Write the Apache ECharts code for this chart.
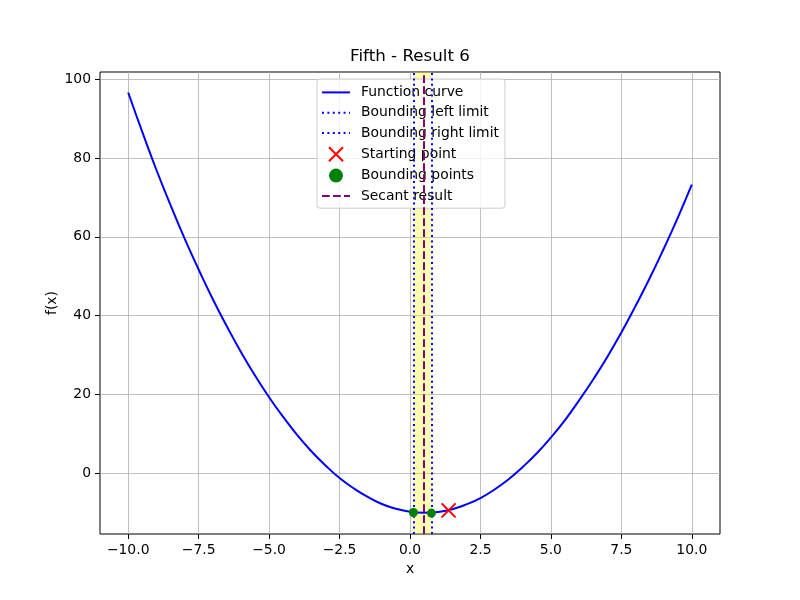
<!DOCTYPE html>
<html>
<head>
    <meta charset="utf-8">
    <title>Fifth - Result 6</title>
    <script src="https://cdn.jsdelivr.net/npm/echarts@6/dist/echarts.min.js"></script>
    <style>
        html, body { margin: 0; padding: 0; background: #fff; }
    </style>
</head>
<body>
<div id="main" style="width: 800px;height:600px;"></div>
<script type="text/javascript">
// values
var curveX = [-10, -9.5, -9, -8.5, -8, -7.5, -7, -6.5, -6, -5.5, -5, -4.5, -4, -3.5, -3, -2.5, -2, -1.5, -1, -0.5,
              0, 0.5, 1, 1.5, 2, 2.5, 3, 3.5, 4, 4.5, 5, 5.5, 6, 6.5, 7, 7.5, 8, 8.5, 9, 9.5, 10];
var curveY = [96.6, 86.6, 77.0, 68.1, 59.6, 51.7, 44.2, 37.3, 30.8, 24.8, 19.3, 14.3, 9.7, 5.6, 2.0, -1.2, -3.8, -6.0, -7.8, -9.0,
              -9.75, -10.0, -9.8, -9.1, -7.9, -6.3, -4.1, -1.5, 1.6, 5.1, 9.1, 13.5, 18.5, 23.8, 29.5, 35.7, 42.4, 49.4, 56.9, 64.8, 73.2];

var boundLeft = 0.12;
var boundRight = 0.76;
var secantX = 0.5;

var startPoint = [1.37, -9.4];
var boundPointsX = [0.12, 0.76];
var boundPointsY = [-9.95, -10.1];

var xTicks = [-10, -7.5, -5, -2.5, 0, 2.5, 5, 7.5, 10];
var yTicks = [0, 20, 40, 60, 80, 100];

var FONT = 'DejaVu Sans';

function pairs(xs, ys) {
    var out = [];
    for (var i = 0; i < xs.length; i++) out.push([xs[i], ys[i]]);
    return out;
}
function minus(s) { return String(s).replace('-', '\u2212'); }

// line entries in the legend: hide the marker ECharts puts on the line icon
var noMarker = { opacity: 0, color: 'rgba(0,0,0,0)', borderWidth: 0 };

var myChart = echarts.init(document.getElementById('main'));

var option = {
    animation: false,
    backgroundColor: '#fff',
    graphic: [{
        type: 'text',
        x: 410,
        y: 57,
        style: {
            text: 'Fifth - Result 6',
            fontFamily: FONT,
            fontSize: 16.7,
            fill: '#000',
            align: 'center',
            verticalAlign: 'middle'
        }
    }],
    grid: {
        left: 100, right: 80, top: 72, bottom: 66,
        show: true,
        borderColor: '#000',
        borderWidth: 1,
        backgroundColor: 'transparent'
    },
    legend: {
        orient: 'vertical',
        left: 317,
        top: 79,
        padding: [6.4, 6, 5.3, 4],
        itemWidth: 28,
        itemHeight: 14,
        itemGap: 6.3,
        backgroundColor: 'rgba(255,255,255,0.8)',
        borderColor: '#cccccc',
        borderWidth: 1,
        borderRadius: 3,
        textStyle: {
            fontFamily: FONT,
            fontSize: 13.9,
            color: '#000',
            padding: [0, 0, 0, 6]
        },
        data: [
            { name: 'Function curve', itemStyle: noMarker },
            { name: 'Bounding left limit', itemStyle: noMarker },
            { name: 'Bounding right limit', itemStyle: noMarker },
            { name: 'Starting point' },
            { name: 'Bounding points' },
            { name: 'Secant result', itemStyle: noMarker }
        ]
    },
    xAxis: {
        type: 'value',
        min: -11,
        max: 11,
        name: 'x',
        nameLocation: 'middle',
        nameGap: 26,
        nameTextStyle: { fontFamily: FONT, fontSize: 13.9, color: '#000' },
        axisLine: { show: false, onZero: false },
        axisTick: {
            show: true, length: 5, customValues: xTicks,
            lineStyle: { color: '#000', width: 1 }
        },
        axisLabel: {
            customValues: xTicks,
            margin: 9,
            fontFamily: FONT, fontSize: 13.9, color: '#000',
            formatter: function (v) { return minus(v.toFixed(1)); }
        },
        splitLine: { show: true, lineStyle: { color: '#b0b0b0', width: 0.8 } }
    },
    yAxis: {
        type: 'value',
        min: -15.4,
        max: 101.8,
        name: 'f(x)',
        nameLocation: 'middle',
        nameRotate: 90,
        nameGap: 41,
        nameMoveOverlap: false,
        nameTextStyle: { fontFamily: FONT, fontSize: 13.9, color: '#000' },
        axisLine: { show: false, onZero: false },
        axisTick: {
            show: true, length: 5, customValues: yTicks,
            lineStyle: { color: '#000', width: 1 }
        },
        axisLabel: {
            customValues: yTicks,
            margin: 9,
            fontFamily: FONT, fontSize: 13.9, color: '#000',
            formatter: function (v) { return minus(v); }
        },
        splitLine: { show: true, lineStyle: { color: '#b0b0b0', width: 0.8 } }
    },
    series: [
        {
            name: 'Function curve',
            type: 'line',
            data: pairs(curveX, curveY),
            smooth: true,
            showSymbol: false,
            symbol: 'none',
            lineStyle: { color: '#0000ff', width: 2 },
            itemStyle: { color: '#0000ff' },
            z: 3,
            markArea: {
                silent: true,
                itemStyle: { color: 'rgba(255,255,0,0.3)' },
                data: [[{ xAxis: boundLeft }, { xAxis: boundRight }]]
            }
        },
        {
            name: 'Bounding left limit',
            type: 'line',
            data: [],
            symbol: 'none',
            lineStyle: { color: '#0000ff', width: 2, type: [2, 3.4] },
            itemStyle: { color: '#0000ff' },
            z: 4,
            markLine: {
                silent: true,
                symbol: ['none', 'none'],
                label: { show: false },
                lineStyle: { color: '#0000ff', width: 2, type: [2, 3.4] },
                data: [{ xAxis: boundLeft }]
            }
        },
        {
            name: 'Bounding right limit',
            type: 'line',
            data: [],
            symbol: 'none',
            lineStyle: { color: '#0000ff', width: 2, type: [2, 3.4] },
            itemStyle: { color: '#0000ff' },
            z: 4,
            markLine: {
                silent: true,
                symbol: ['none', 'none'],
                label: { show: false },
                lineStyle: { color: '#0000ff', width: 2, type: [2, 3.4] },
                data: [{ xAxis: boundRight }]
            }
        },
        {
            name: 'Starting point',
            type: 'scatter',
            data: [startPoint],
            symbol: 'path://M0,0L10,10M10,0L0,10',
            symbolSize: 14,
            itemStyle: { color: 'rgba(0,0,0,0)', borderColor: '#ff0000', borderWidth: 2, opacity: 1 },
            z: 5
        },
        {
            name: 'Bounding points',
            type: 'scatter',
            data: pairs(boundPointsX, boundPointsY),
            symbol: 'circle',
            symbolSize: 9,
            itemStyle: { color: '#008000', opacity: 1 },
            z: 5
        },
        {
            name: 'Secant result',
            type: 'line',
            data: [],
            symbol: 'none',
            lineStyle: { color: '#800080', width: 2, type: [7.7, 3.3] },
            itemStyle: { color: '#800080' },
            z: 4,
            markLine: {
                silent: true,
                symbol: ['none', 'none'],
                label: { show: false },
                lineStyle: { color: '#800080', width: 2, type: [7.7, 3.3] },
                data: [{ xAxis: secantX }]
            }
        }
    ]
};

myChart.setOption(option);
</script>
</body>
</html>
